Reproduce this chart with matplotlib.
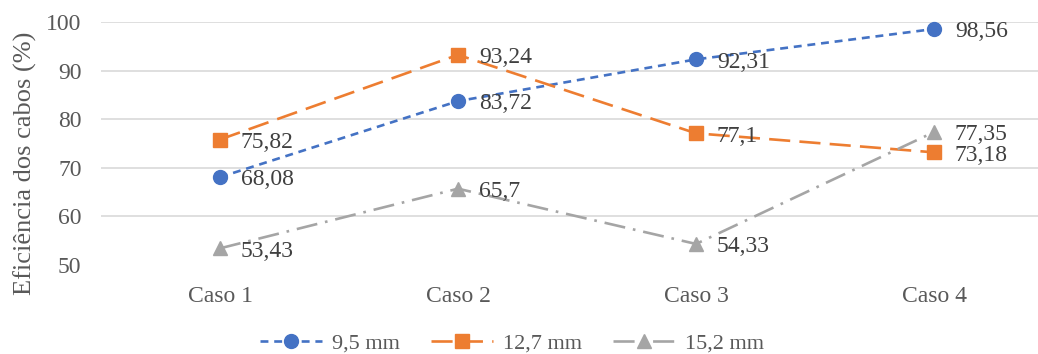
import matplotlib
matplotlib.use("Agg")
import matplotlib.pyplot as plt

categories = ["Caso 1", "Caso 2", "Caso 3", "Caso 4"]
s95 = [68.08, 83.72, 92.31, 98.56]
s127 = [75.82, 93.24, 77.1, 73.18]
s152 = [53.43, 65.7, 54.33, 77.35]
series_names = ["9,5 mm", "12,7 mm", "15,2 mm"]
yticks = [50, 60, 70, 80, 90, 100]

plt.rcParams['font.family'] = ['Liberation Serif', 'DejaVu Serif']

fig = plt.figure(figsize=(10.38, 3.54), dpi=100)
ax = fig.add_axes([101/1038, 89/354, 952/1038, 243/354])

x = list(range(len(categories)))
colors = ["#4472C4", "#ED7D31", "#A5A5A5"]
styles = [(0, (3, 2.2)), (0, (8, 3.5)), (0, (8, 3, 1, 3))]
markers = ["o", "s", "^"]
msizes = [10, 9.5, 10]
data = [s95, s127, s152]

for vals, c, ls, m, ms, name in zip(data, colors, styles, markers, msizes, series_names):
    ax.plot(x, vals, color=c, linestyle=ls, lw=1.9, marker=m, markersize=ms,
            markeredgecolor=c, markerfacecolor=c, label=name, clip_on=False, zorder=3)
    for xi, v in zip(x, vals):
        lbl = f"{v:g}".replace(".", ",")
        ax.annotate(lbl, (xi, v), xytext=(15, -2), textcoords="offset points",
                    ha="left", va="center", fontsize=17, color="#404040", zorder=4)

ax.set_xlim(-0.5, 3.5)
ax.set_ylim(50, 100)
ax.set_yticks(yticks)
ax.set_xticks(x)
ax.set_xticklabels(categories)
ax.tick_params(axis='both', length=0, labelsize=17, labelcolor="#595959")
ax.tick_params(axis='x', pad=15)
ax.tick_params(axis='y', pad=14)
for sp in ax.spines.values():
    sp.set_visible(False)
for t in yticks[1:]:
    ax.axhline(t, color="#D9D9D9", lw=1.2, zorder=0)

ax.set_ylabel("Eficiência dos cabos (%)", fontsize=19, color="#595959")
ax.yaxis.set_label_coords(-0.067, 0.42)

leg = fig.legend(loc="center", bbox_to_anchor=(512/1038, 1 - 343/354), ncol=3, frameon=False,
                 fontsize=16, handlelength=2.8, columnspacing=1.4, handletextpad=0.45)
for t in leg.get_texts():
    t.set_color("#595959")

fig.savefig("out.png", dpi=100)
